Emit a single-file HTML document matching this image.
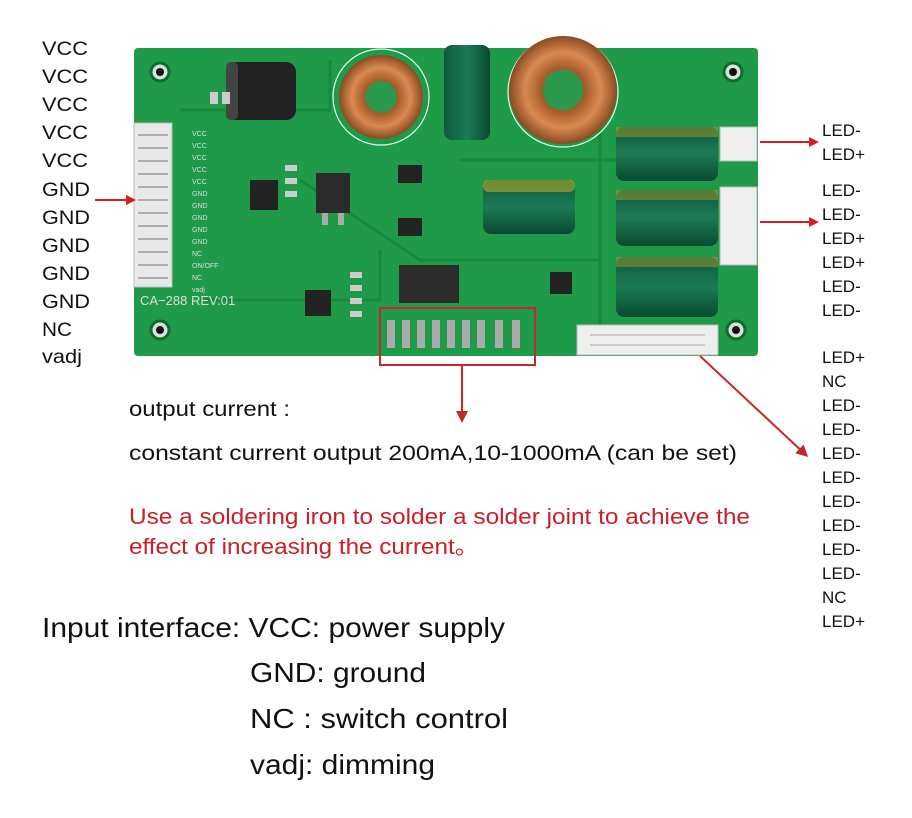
<!DOCTYPE html>
<html><head><meta charset="utf-8"><style>
body{margin:0;background:#fff;width:912px;height:818px;overflow:hidden;font-family:"Liberation Sans",Arial,sans-serif;}
svg{position:absolute;left:0;top:0}
</style></head><body>
<svg width="912" height="818" xmlns="http://www.w3.org/2000/svg" font-family="Liberation Sans, Arial, sans-serif">
<defs>
<marker id="ar" markerWidth="10" markerHeight="10" refX="8" refY="5" orient="auto" markerUnits="userSpaceOnUse"><path d="M0,0 L10,5 L0,10 z" fill="#d81e1e"/></marker>
<marker id="ar2" markerWidth="12" markerHeight="12" refX="9" refY="6" orient="auto" markerUnits="userSpaceOnUse"><path d="M0,0 L12,6 L0,12 z" fill="#c0282a"/></marker>
<radialGradient id="cu" cx="50%" cy="50%" r="50%"><stop offset="35%" stop-color="#2a9a4c"/><stop offset="40%" stop-color="#a55a2a"/><stop offset="70%" stop-color="#d98a52"/><stop offset="100%" stop-color="#8a4a22"/></radialGradient>
<linearGradient id="cap" x1="0" y1="0" x2="0" y2="1"><stop offset="0" stop-color="#0e5a3c"/><stop offset="0.5" stop-color="#1d7a55"/><stop offset="1" stop-color="#0a4a30"/></linearGradient>
<linearGradient id="caph" x1="0" y1="0" x2="1" y2="0"><stop offset="0" stop-color="#0e5a3c"/><stop offset="0.5" stop-color="#1d7a55"/><stop offset="1" stop-color="#0a4a30"/></linearGradient>
</defs>
<rect x="134" y="48" width="624" height="308" rx="4" fill="#1f9a48"/>
<g fill="none" stroke="#168a3c" stroke-width="3">
<path d="M180 110 L330 110 L330 60"/><path d="M300 180 L420 260 L600 260"/><path d="M200 300 L380 300 L380 250"/><path d="M600 130 L600 330"/><path d="M460 160 L620 160"/>
</g>
<g fill="#d8e4d8" stroke="#0f6b30" stroke-width="3">
<circle cx="160" cy="72" r="9"/><circle cx="733" cy="72" r="9"/><circle cx="160" cy="330" r="9"/><circle cx="736" cy="330" r="9"/>
</g>
<g fill="#111"><circle cx="160" cy="72" r="4"/><circle cx="733" cy="72" r="4"/><circle cx="160" cy="330" r="4"/><circle cx="736" cy="330" r="4"/></g>
<circle cx="381" cy="97" r="48" fill="none" stroke="#dfe" stroke-width="1.2"/>
<circle cx="563" cy="92" r="55" fill="none" stroke="#dfe" stroke-width="1.2"/>
<rect x="134" y="123" width="38" height="164" fill="#e8e8e8" stroke="#bbb"/>
<g stroke="#999" stroke-width="1.5">
<line x1="138" y1="135" x2="168" y2="135"/><line x1="138" y1="148" x2="168" y2="148"/><line x1="138" y1="161" x2="168" y2="161"/><line x1="138" y1="174" x2="168" y2="174"/><line x1="138" y1="187" x2="168" y2="187"/><line x1="138" y1="200" x2="168" y2="200"/><line x1="138" y1="213" x2="168" y2="213"/><line x1="138" y1="226" x2="168" y2="226"/><line x1="138" y1="239" x2="168" y2="239"/><line x1="138" y1="252" x2="168" y2="252"/><line x1="138" y1="265" x2="168" y2="265"/><line x1="138" y1="278" x2="168" y2="278"/>
</g>
<g fill="#ddd" font-size="7">
<text x="192" y="136">VCC</text><text x="192" y="148">VCC</text><text x="192" y="160">VCC</text><text x="192" y="172">VCC</text><text x="192" y="184">VCC</text><text x="192" y="196">GND</text><text x="192" y="208">GND</text><text x="192" y="220">GND</text><text x="192" y="232">GND</text><text x="192" y="244">GND</text><text x="192" y="256">NC</text><text x="192" y="268">ON/OFF</text><text x="192" y="280">NC</text><text x="192" y="292">vadj</text>
</g>
<rect x="226" y="62" width="70" height="58" rx="10" fill="#222"/>
<rect x="226" y="62" width="12" height="58" rx="5" fill="#444"/>
<circle cx="381" cy="97" r="42" fill="url(#cu)"/>
<circle cx="563" cy="90" r="54" fill="url(#cu)"/>
<rect x="444" y="45" width="46" height="95" rx="8" fill="url(#caph)"/>
<rect x="483" y="180" width="92" height="54" rx="8" fill="url(#cap)"/>
<rect x="483" y="180" width="92" height="12" rx="5" fill="#b8a830" opacity="0.6"/>
<rect x="616" y="127" width="102" height="54" rx="8" fill="url(#cap)"/>
<rect x="616" y="190" width="102" height="56" rx="8" fill="url(#cap)"/>
<rect x="616" y="257" width="102" height="60" rx="8" fill="url(#cap)"/>
<rect x="616" y="127" width="102" height="10" fill="#a89a2a" opacity="0.5"/>
<rect x="616" y="190" width="102" height="10" fill="#a89a2a" opacity="0.5"/>
<rect x="616" y="257" width="102" height="10" fill="#a89a2a" opacity="0.5"/>
<rect x="720" y="127" width="37" height="34" fill="#eee" stroke="#bbb"/>
<rect x="720" y="187" width="37" height="78" fill="#eee" stroke="#bbb"/>
<rect x="577" y="325" width="141" height="30" fill="#eee" stroke="#bbb"/>
<g stroke="#aaa"><line x1="590" y1="335" x2="705" y2="335"/><line x1="590" y1="345" x2="705" y2="345"/></g>
<rect x="316" y="173" width="34" height="40" fill="#2b2b2b"/><rect x="322" y="213" width="6" height="12" fill="#aaa"/><rect x="338" y="213" width="6" height="12" fill="#aaa"/>
<rect x="399" y="265" width="60" height="38" fill="#2b2b2b"/>
<rect x="250" y="180" width="28" height="30" fill="#222"/>
<rect x="305" y="290" width="26" height="26" fill="#222"/>
<rect x="398" y="165" width="24" height="18" fill="#222"/><rect x="398" y="218" width="24" height="18" fill="#222"/>
<rect x="550" y="272" width="22" height="22" fill="#222"/>
<g fill="#ccc"><rect x="210" y="92" width="8" height="12"/><rect x="222" y="92" width="8" height="12"/><rect x="285" y="165" width="12" height="6"/><rect x="285" y="178" width="12" height="6"/><rect x="285" y="191" width="12" height="6"/><rect x="350" y="272" width="12" height="6"/><rect x="350" y="285" width="12" height="6"/><rect x="350" y="298" width="12" height="6"/><rect x="350" y="311" width="12" height="6"/></g>
<g fill="#aaa"><rect x="387" y="320" width="8" height="28"/><rect x="402" y="320" width="8" height="28"/><rect x="417" y="320" width="8" height="28"/><rect x="432" y="320" width="8" height="28"/><rect x="447" y="320" width="8" height="28"/><rect x="462" y="320" width="8" height="28"/><rect x="477" y="320" width="8" height="28"/><rect x="495" y="320" width="8" height="28"/><rect x="512" y="320" width="8" height="28"/></g>
<text x="140" y="305" fill="#ddd" font-size="13">CA−288  REV:01</text>
<rect x="380" y="308" width="155" height="57" fill="none" stroke="#c8262a" stroke-width="2"/>
<line x1="462" y1="365" x2="462" y2="420" stroke="#c8262a" stroke-width="2" marker-end="url(#ar2)"/>
<line x1="95" y1="200" x2="134" y2="200" stroke="#d81e1e" stroke-width="2" marker-end="url(#ar)"/>
<line x1="760" y1="142" x2="817" y2="142" stroke="#d81e1e" stroke-width="2" marker-end="url(#ar)"/>
<line x1="760" y1="222" x2="817" y2="222" stroke="#d81e1e" stroke-width="2" marker-end="url(#ar)"/>
<line x1="700" y1="356" x2="806" y2="455" stroke="#c8262a" stroke-width="2" marker-end="url(#ar2)"/>
<g font-size="19" fill="#111">
<text x="42" y="55" textLength="46" lengthAdjust="spacingAndGlyphs">VCC</text><text x="42" y="83" textLength="46" lengthAdjust="spacingAndGlyphs">VCC</text><text x="42" y="111" textLength="46" lengthAdjust="spacingAndGlyphs">VCC</text><text x="42" y="139" textLength="46" lengthAdjust="spacingAndGlyphs">VCC</text><text x="42" y="167" textLength="46" lengthAdjust="spacingAndGlyphs">VCC</text><text x="42" y="196" textLength="48" lengthAdjust="spacingAndGlyphs">GND</text><text x="42" y="224" textLength="48" lengthAdjust="spacingAndGlyphs">GND</text><text x="42" y="252" textLength="48" lengthAdjust="spacingAndGlyphs">GND</text><text x="42" y="280" textLength="48" lengthAdjust="spacingAndGlyphs">GND</text><text x="42" y="308" textLength="48" lengthAdjust="spacingAndGlyphs">GND</text><text x="42" y="336" textLength="30" lengthAdjust="spacingAndGlyphs">NC</text><text x="42" y="363" textLength="40" lengthAdjust="spacingAndGlyphs">vadj</text>
</g>
<g font-size="17" fill="#111">
<text x="822" y="136">LED-</text><text x="822" y="160">LED+</text>
<text x="822" y="196">LED-</text><text x="822" y="220">LED-</text><text x="822" y="244">LED+</text><text x="822" y="268">LED+</text><text x="822" y="292">LED-</text><text x="822" y="316">LED-</text>
<text x="822" y="363">LED+</text><text x="822" y="387">NC</text><text x="822" y="411">LED-</text><text x="822" y="435">LED-</text><text x="822" y="459">LED-</text><text x="822" y="483">LED-</text><text x="822" y="507">LED-</text><text x="822" y="531">LED-</text><text x="822" y="555">LED-</text><text x="822" y="579">LED-</text><text x="822" y="603">NC</text><text x="822" y="627">LED+</text>
</g>
<g font-size="21" fill="#111">
<text x="129" y="416" textLength="161" lengthAdjust="spacingAndGlyphs">output current :</text>
<text x="129" y="460" textLength="608" lengthAdjust="spacingAndGlyphs">constant current output 200mA,10-1000mA (can be set)</text>
</g>
<g font-size="22" fill="#c8202a">
<text x="129" y="524" textLength="621" lengthAdjust="spacingAndGlyphs">Use a soldering iron to solder a solder joint to achieve the</text>
<text x="129" y="554" textLength="350" lengthAdjust="spacingAndGlyphs">effect of increasing the current。</text>
</g>
<g font-size="28" fill="#111">
<text x="42" y="637" textLength="463" lengthAdjust="spacingAndGlyphs">Input interface: VCC: power supply</text>
<text x="250" y="682" textLength="176" lengthAdjust="spacingAndGlyphs">GND: ground</text>
<text x="250" y="728" textLength="258" lengthAdjust="spacingAndGlyphs">NC  : switch control</text>
<text x="250" y="774" textLength="185" lengthAdjust="spacingAndGlyphs">vadj: dimming</text>
</g>
</svg>
</body></html>
